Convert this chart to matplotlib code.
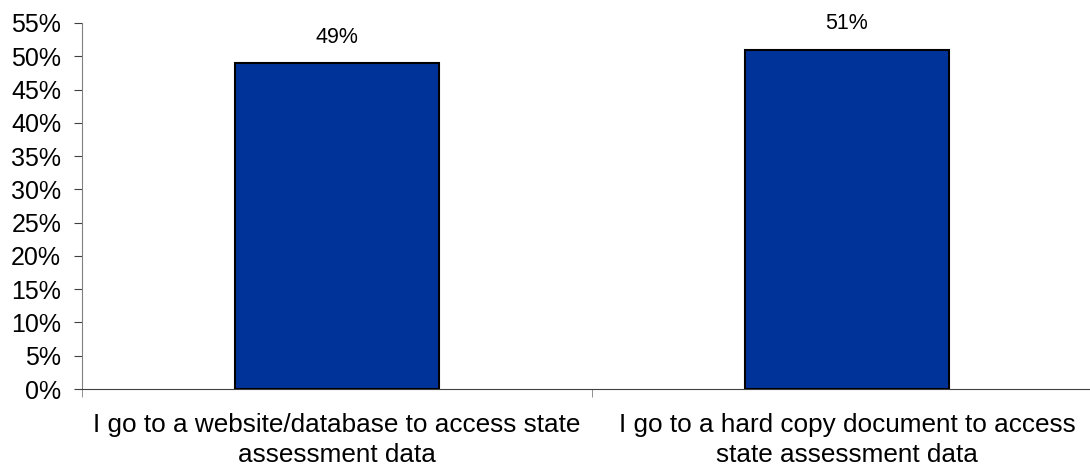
import matplotlib.pyplot as plt
import numpy as np

plt.rcParams['font.family'] = ['Liberation Sans', 'DejaVu Sans']

categorias = ['I go to a website/database to access state\nassessment data',
              'I go to a hard copy document to access\nstate assessment data']
valores = [49, 51]
rotulos = ['49%', '51%']

fig = plt.figure(figsize=(10.90, 4.69), dpi=100)
ax = fig.add_axes([82 / 1090, (469 - 389) / 469, 1020 / 1090, 366 / 469])

x = np.arange(len(categorias))
ax.bar(x, valores, width=0.4, color='#003399', edgecolor='black', linewidth=1.5, zorder=3)

for xi, v, r in zip(x, valores, rotulos):
    ax.annotate(r, (xi, v), xytext=(0, 11), textcoords='offset points',
                ha='center', va='bottom', fontsize=15.5)

ax.set_xlim(-0.5, 1.5)
ax.set_ylim(0, 55)
ax.set_yticks(range(0, 56, 5))
ax.set_yticklabels([f'{t}%' for t in range(0, 56, 5)], fontsize=18)

ax.set_xticks(x)
ax.set_xticklabels(categorias, fontsize=18.8, linespacing=1.36)
ax.set_xticks([-0.5, 0.5, 1.5], minor=True)
ax.tick_params(axis='x', which='major', length=0, pad=17)
ax.tick_params(axis='x', which='minor', length=6, color='#808080')
ax.tick_params(axis='y', length=6, color='#404040', pad=9)

for s in ['top', 'right']:
    ax.spines[s].set_visible(False)
ax.spines['left'].set_color('#808080')
ax.spines['bottom'].set_color('#404040')

plt.savefig('out.png', dpi=100)
